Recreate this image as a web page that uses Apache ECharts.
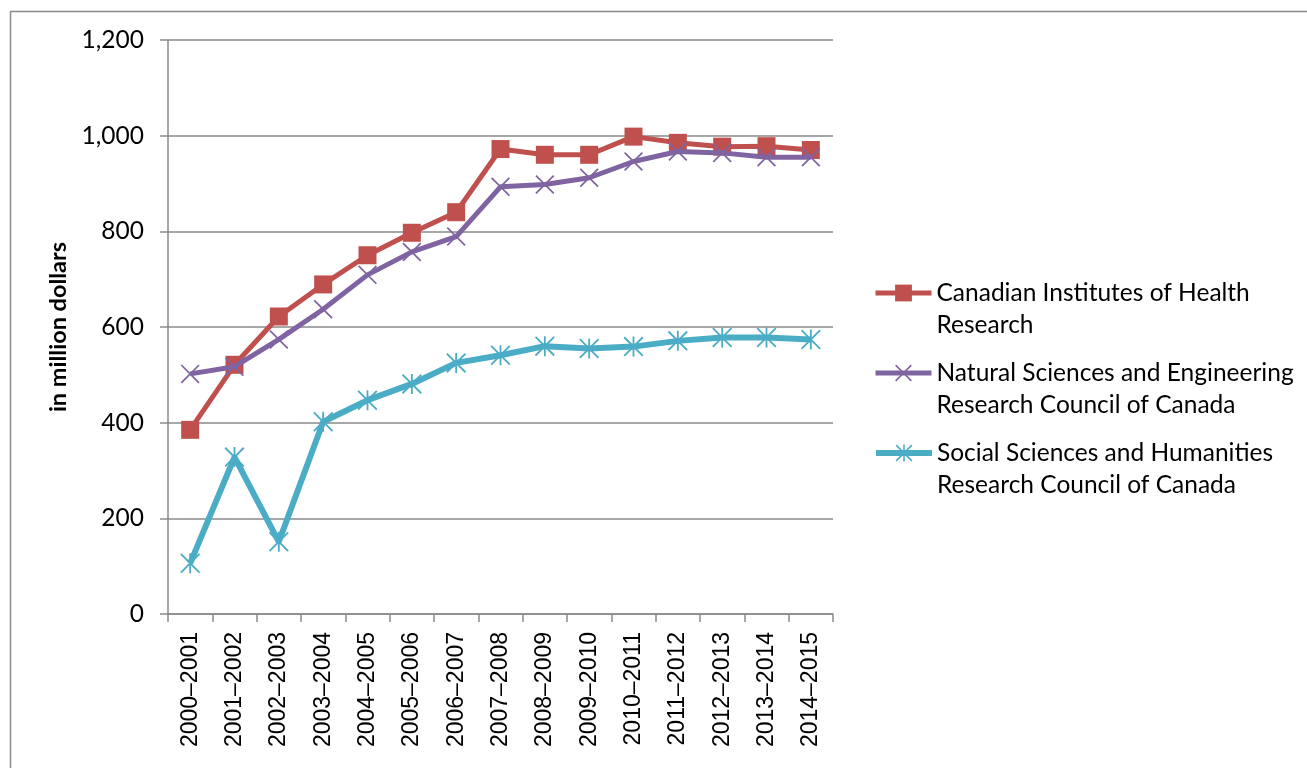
<!DOCTYPE html>
<html>
<head>
<meta charset="utf-8">
<script src="https://cdn.jsdelivr.net/npm/echarts@6/dist/echarts.min.js"></script>
<style>
html,body{margin:0;padding:0;background:#fff;}
#chart{width:1307px;height:768px;}
</style>
</head>
<body>
<div id="chart"></div>
<script>
var categories = ['2000\u20132001','2001\u20132002','2002\u20132003','2003\u20132004','2004\u20132005','2005\u20132006','2006\u20132007','2007\u20132008','2008\u20132009','2009\u20132010','2010\u20132011','2011\u20132012','2012\u20132013','2013\u20132014','2014\u20132015'];
var cihr  = [385, 521, 622, 689, 750, 797, 840, 972, 960, 960, 998, 985, 977, 978, 970];
var nserc = [502, 517, 574, 637, 709, 757, 789, 893, 898, 912, 946, 967, 964, 955, 955];
var sshrc = [106, 328, 151, 402, 447, 481, 525, 541, 560, 555, 559, 571, 578, 578, 574];
var seriesNames = ['Canadian Institutes of Health Research', 'Natural Sciences and Engineering Research Council of Canada', 'Social Sciences and Humanities Research Council of Canada'];
var legendLabels = {
  'Canadian Institutes of Health Research': 'Canadian Institutes of Health\nResearch',
  'Natural Sciences and Engineering Research Council of Canada': 'Natural Sciences and Engineering\nResearch Council of Canada',
  'Social Sciences and Humanities Research Council of Canada': 'Social Sciences and Humanities\nResearch Council of Canada'
};
var yTicks = {min: 0, max: 1200, interval: 200};

var xSymbol = 'path://M0,1.3 L1.3,0 L20,18.7 L18.7,20 Z M18.7,0 L20,1.3 L1.3,20 L0,18.7 Z';
var starSymbol = 'path://M0,1.3 L1.3,0 L20,18.7 L18.7,20 Z M18.7,0 L20,1.3 L1.3,20 L0,18.7 Z M9.1,0 L10.9,0 L10.9,20 L9.1,20 Z';

var colors = ['#C0504D', '#8064A2', '#4BACC6'];
var widths = [5, 5, 6];
var gray = '#8a8a8a';
var font = 'Lato';

function legendFor(i, top) {
  return {
    data: [seriesNames[i]],
    left: 873,
    top: top,
    padding: 0,
    orient: 'vertical',
    itemWidth: 56,
    itemHeight: 21,
    lineStyle: {width: widths[i]},
    formatter: function (n) { return '\n' + legendLabels[n]; },
    textStyle: {
      fontFamily: font, fontSize: 24.5, color: '#000', lineHeight: 32
    }
  };
}

var chart = echarts.init(document.getElementById('chart'), null, {renderer: 'canvas'});
chart.setOption({
  animation: false,
  backgroundColor: '#fff',
  graphic: [{
    type: 'rect', left: 8, top: 9, silent: true,
    shape: {width: 1400, height: 900},
    style: {fill: 'none', stroke: gray, lineWidth: 1.5}
  }],
  grid: {left: 168, top: 40, right: 474, bottom: 154, containLabel: false},
  legend: [legendFor(0, 245), legendFor(1, 325), legendFor(2, 405)],
  xAxis: {
    type: 'category',
    data: categories,
    boundaryGap: true,
    axisLine: {lineStyle: {color: gray, width: 1.5}},
    axisTick: {show: true, length: 8, alignWithLabel: false, lineStyle: {color: gray, width: 1.5}},
    axisLabel: {rotate: 90, margin: 18, fontFamily: 'Liberation Sans', fontSize: 23, color: '#000', interval: 0}
  },
  yAxis: {
    type: 'value',
    min: yTicks.min, max: yTicks.max, interval: yTicks.interval,
    name: 'in million dollars',
    nameLocation: 'middle',
    nameGap: 93,
    nameTextStyle: {fontFamily: font, fontSize: 23.5, fontWeight: 'bold', color: '#000'},
    axisLine: {show: true, lineStyle: {color: gray, width: 1.5}},
    axisTick: {show: true, length: 8, lineStyle: {color: gray, width: 1.5}},
    splitLine: {lineStyle: {color: gray, width: 1.5}},
    axisLabel: {margin: 24, fontFamily: font, fontSize: 24.5, color: '#000',
      formatter: function (v) { return v.toLocaleString('en-US'); }}
  },
  series: [
    {name: seriesNames[0], type: 'line', data: cihr, color: colors[0],
     symbol: 'rect', symbolSize: 18, lineStyle: {width: widths[0], color: colors[0]},
     itemStyle: {color: colors[0]}, z: 3},
    {name: seriesNames[1], type: 'line', data: nserc, color: colors[1],
     symbol: xSymbol, symbolSize: 19, lineStyle: {width: widths[1], color: colors[1]},
     itemStyle: {color: colors[1]}, z: 4},
    {name: seriesNames[2], type: 'line', data: sshrc, color: colors[2],
     symbol: starSymbol, symbolSize: 20, lineStyle: {width: widths[2], color: colors[2]},
     itemStyle: {color: colors[2]}, z: 5}
  ]
});
</script>
</body>
</html>
